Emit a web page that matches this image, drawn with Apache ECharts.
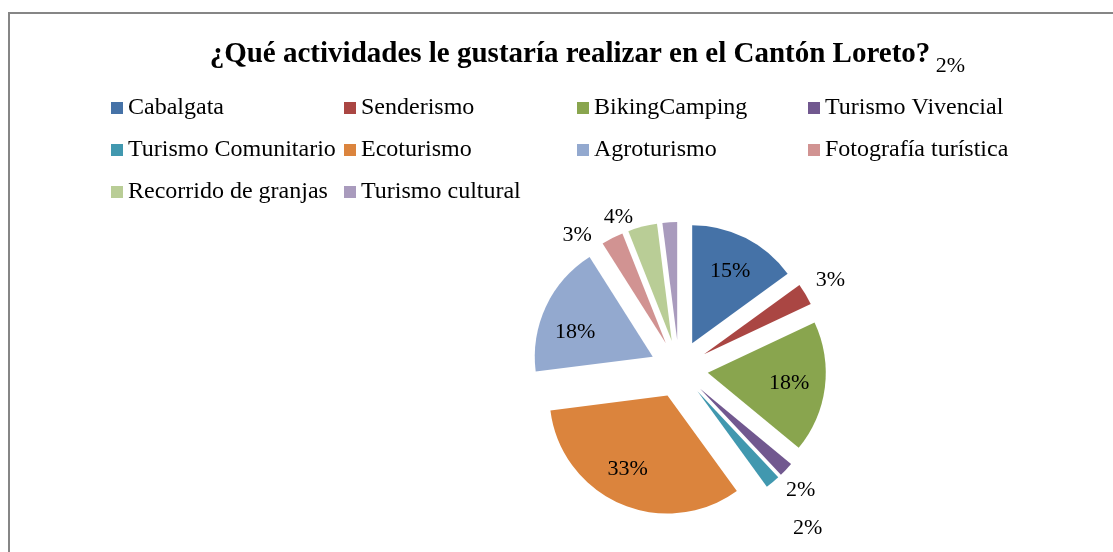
<!DOCTYPE html>
<html>
<head>
<meta charset="utf-8">
<script src="https://cdn.jsdelivr.net/npm/echarts@6/dist/echarts.min.js"></script>
<style>
  html, body { margin: 0; padding: 0; background: #fff; }
  #main { width: 1113px; height: 552px; }
</style>
</head>
<body>
<div id="main"></div>
<script>
var categories = ['Cabalgata', 'Senderismo', 'BikingCamping', 'Turismo Vivencial',
    'Turismo Comunitario', 'Ecoturismo', 'Agroturismo', 'Fotografía turística',
    'Recorrido de granjas', 'Turismo cultural'];
var values = [15, 3, 18, 2, 2, 33, 18, 3, 4, 2];

// estilo (no datos)
var colors = ['#4572A7', '#AA4643', '#89A54E', '#71588F', '#4198AF',
    '#DB843D', '#93A9CF', '#D19392', '#B9CD96', '#A99BBD'];
// [length, length2] de la línea de etiqueta (oculta), para ubicar cada porcentaje
var labelPos = [[-37, -24], [28, -19], [-36, -25], [30, -27], [60, -23],
    [-38, -17], [-60, 0], [3, 14], [10, 2], [156, -310]];
// columnas de la leyenda (índices de categorías)
var legendCols = [[0, 4, 8], [1, 5, 9], [2, 6], [3, 7]];
var legendX = [111, 344, 577, 808];

var serif = '"Liberation Serif", "Times New Roman", serif';

var pieData = [];
for (var i = 0; i < categories.length; i++) {
    pieData.push({
        name: categories[i],
        value: values[i],
        selected: true,
        itemStyle: { color: colors[i] },
        labelLine: { show: false, length: labelPos[i][0], length2: labelPos[i][1] }
    });
}

var legends = [];
for (var c = 0; c < legendCols.length; c++) {
    legends.push({
        orient: 'vertical',
        left: legendX[c],
        top: 96,
        padding: 0,
        itemWidth: 12,
        itemHeight: 12,
        itemGap: 18,
        icon: 'rect',
        selectedMode: false,
        data: legendCols[c].map(function (k) { return categories[k]; }),
        textStyle: { fontFamily: serif, fontSize: 24, lineHeight: 24, color: '#000' }
    });
}

var option = {
    backgroundColor: '#fff',
    animation: false,
    title: {
        text: '¿Qué actividades le gustaría realizar en el Cantón Loreto?',
        left: 565,
        textAlign: 'center',
        top: 35,
        textStyle: { fontFamily: serif, fontSize: 29, fontWeight: 'bold', color: '#000' }
    },
    legend: legends,
    graphic: [{
        type: 'rect',
        shape: { x: 9, y: 13, width: 1120, height: 560 },
        style: { fill: 'none', stroke: '#868686', lineWidth: 2 },
        silent: true
    }],
    series: [{
        type: 'pie',
        center: [679, 369],
        radius: 118,
        startAngle: 90,
        clockwise: true,
        selectedMode: 'multiple',
        selectedOffset: 29,
        avoidLabelOverlap: false,
        silent: true,
        itemStyle: { borderWidth: 0 },
        label: {
            show: true,
            position: 'outside',
            fontFamily: serif,
            fontSize: 22,
            color: '#000',
            formatter: function (p) { return p.value + '%'; }
        },
        data: pieData
    }]
};

var myChart = echarts.init(document.getElementById('main'));
myChart.setOption(option);
</script>
</body>
</html>
